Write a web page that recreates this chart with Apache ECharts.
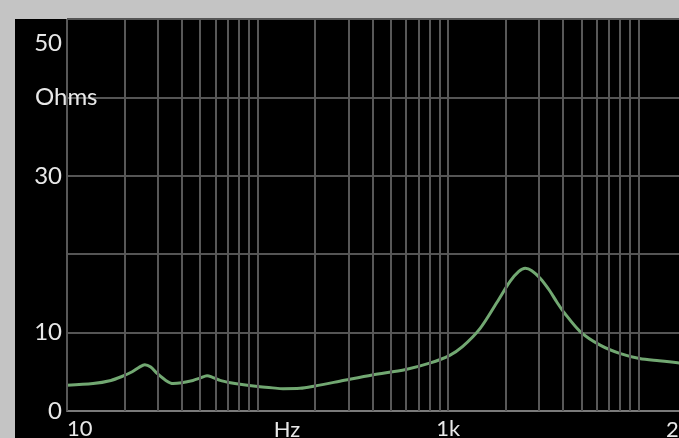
<!DOCTYPE html>
<html><head><meta charset="utf-8">
<script src="https://cdn.jsdelivr.net/npm/echarts@6/dist/echarts.min.js"></script>
<style>html,body{margin:0;padding:0;background:#c4c4c4}#c{width:679px;height:438px}</style>
</head><body><div id="c"></div>
<script>
// Impedance curve (frequency Hz, Ohms)
const freqs = [10, 13.7, 17, 19.4, 22, 24, 25.6, 27.5, 29.7, 33, 36, 40, 45.8, 50, 54.3, 58, 63.6, 72, 81, 103, 120, 136, 167, 200, 270, 400, 600, 800, 1020, 1190, 1470, 1810, 2110, 2350, 2540, 2750, 3050, 3400, 3720, 4080, 4950, 6280, 7950, 10100, 12800, 16000, 20000];
const ohms  = [3.3, 3.5, 3.9, 4.4, 5.0, 5.6, 5.9, 5.6, 4.8, 3.9, 3.5, 3.6, 3.9, 4.2, 4.5, 4.3, 3.9, 3.6, 3.4, 3.1, 2.95, 2.85, 2.9, 3.2, 3.8, 4.6, 5.3, 6.1, 7.1, 8.2, 10.5, 13.9, 16.5, 17.8, 18.2, 17.9, 16.9, 15.4, 13.9, 12.5, 10.1, 8.4, 7.35, 6.7, 6.4, 6.15, 5.95];
// vertical grid frequencies
const gridFreqs = [10, 20, 30, 40, 50, 60, 70, 80, 90, 100, 200, 300, 400, 500, 600, 700, 800, 900, 1000, 2000, 3000, 4000, 5000, 6000, 7000, 8000, 9000, 10000, 20000];
// axis labels
const yLabels = {0: '0', 10: '10', 30: '30'};
const xLabels = {10: '10', 1000: '1k'};
const yUnit = 'Ohms', yTop = '50', xUnit = 'Hz', xEnd = '20k';

const FONT = 'Lato';
const chart = echarts.init(document.getElementById('c'), null, {renderer: 'canvas'});
chart.setOption({
  backgroundColor: '#c4c4c4',
  animation: false,
  grid: {left: 67, top: 19, width: 629, height: 392, containLabel: false, outerBoundsMode: 'none'},
  graphic: [
    {type: 'rect', z: -10, shape: {x: 15, y: 19, width: 700, height: 430}, style: {fill: '#000'}},
    {type: 'text', z: 10, x: 35, y: 97, style: {text: yUnit, fill: '#e8e8e8', font: '24px ' + FONT, verticalAlign: 'middle', align: 'left'}},
    {type: 'text', z: 10, x: 62, y: 43, style: {text: yTop, fill: '#e8e8e8', font: '24px ' + FONT, verticalAlign: 'middle', align: 'right'}},
    {type: 'text', z: 10, x: 287, y: 419, style: {text: xUnit, fill: '#e8e8e8', font: '22px ' + FONT, verticalAlign: 'top', align: 'center'}},
    {type: 'text', z: 10, x: 666, y: 419, style: {text: xEnd, fill: '#e8e8e8', font: '22px ' + FONT, verticalAlign: 'top', align: 'left'}}
  ],
  xAxis: {
    type: 'log', logBase: 10, min: 10, max: 20000,
    axisLine: {show: true, lineStyle: {color: '#7a7a7a', width: 2}},
    axisTick: {show: false},
    splitLine: {show: false},
    axisLabel: {
      margin: 7, color: '#e8e8e8', fontFamily: FONT, fontSize: 22,
      showMaxLabel: false, alignMinLabel: 'left',
      formatter: v => xLabels[Math.round(v)] || ''
    }
  },
  yAxis: {
    type: 'value', min: 0, max: 50, interval: 10,
    axisLine: {show: false},
    axisTick: {show: false},
    splitLine: {show: true, lineStyle: {color: '#555', width: 2}},
    axisLabel: {
      margin: 5, color: '#e8e8e8', fontFamily: FONT, fontSize: 24,
      formatter: v => yLabels[v] || ''
    }
  },
  series: [
    {
      type: 'line', data: [], z: 1, silent: true,
      markLine: {
        silent: true, symbol: ['none', 'none'], label: {show: false},
        lineStyle: {color: '#585858', width: 2, type: 'solid'},
        emphasis: {disabled: true},
        data: gridFreqs.map(f => ({xAxis: f}))
      }
    },
    {
      type: 'line', z: 3, smooth: 0.3, showSymbol: false, symbol: 'none',
      lineStyle: {color: '#72a872', width: 3},
      data: freqs.map((f, i) => [f, ohms[i]])
    }
  ]
});
</script></body></html>
